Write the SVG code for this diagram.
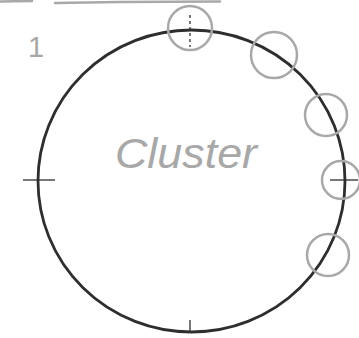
<svg xmlns="http://www.w3.org/2000/svg" width="359" height="338" viewBox="0 0 359 338">
  <style>
    .bg { fill: #ffffff; }
    .pencil { fill: none; stroke: #a8a8a8; stroke-width: 2.5; stroke-linecap: round; }
    .ink { fill: none; stroke: #2e2e2e; stroke-width: 2.8; stroke-linecap: round; }
    .tick { fill: none; stroke: #2e2e2e; stroke-width: 1.3; }
    .hand { font-family: "Liberation Sans", "DejaVu Sans", sans-serif; fill: #a8a8a8; }
  </style>
  <rect class="bg" x="0" y="0" width="359" height="338"/>

  <g id="header">
    <path class="pencil" d="M0 1.5 L32 1"/>
    <path class="pencil" d="M55 3 L120 2 L220 1.5"/>
    <text class="hand" x="28" y="57" font-size="29">1</text>
  </g>

  <g id="cluster">
    <ellipse class="ink" cx="191.5" cy="181" rx="153.5" ry="151"/>
    <text class="hand" x="115" y="168" font-size="42" font-style="italic" textLength="142" lengthAdjust="spacingAndGlyphs">Cluster</text>
  </g>

  <g id="ticks">
    <path class="tick" d="M23 180 L55 180"/>
    <path class="tick" d="M330 180 L358 180"/>
    <path class="tick" d="M190 15 L190 47" stroke-dasharray="3 3"/>
    <path class="tick" d="M190 320 L190 332"/>
  </g>

  <g id="node1"><circle class="pencil" cx="190" cy="28" r="22"/></g>
  <g id="node2"><circle class="pencil" cx="274" cy="55" r="23"/></g>
  <g id="node3"><circle class="pencil" cx="326" cy="115" r="21"/></g>
  <g id="node4"><circle class="pencil" cx="341" cy="180" r="19"/></g>
  <g id="node5"><circle class="pencil" cx="328" cy="255" r="21"/></g>

  <g id="connectors"></g>
</svg>
